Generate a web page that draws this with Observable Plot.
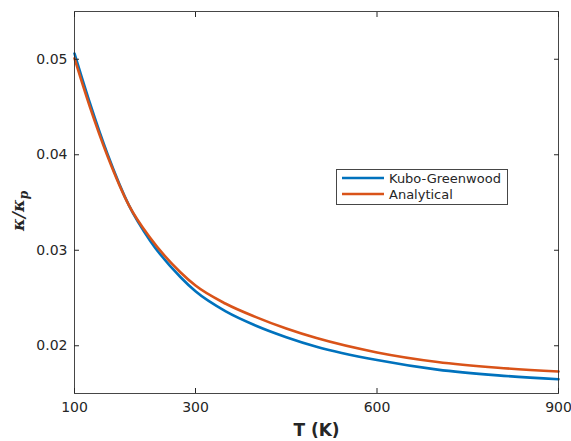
<!DOCTYPE html>
<html>
<head>
<meta charset="utf-8">
<script src="https://cdn.jsdelivr.net/npm/d3@7"></script>
<script src="https://cdn.jsdelivr.net/npm/@observablehq/plot@0.6"></script>
<style>
  html, body { margin: 0; padding: 0; background: #fff; }
  #chart { width: 571px; height: 441px; }
</style>
</head>
<body>
<div id="chart"></div>
<script>
// Temperature samples (K)
const temps = [100, 125, 155, 190, 225, 275, 300, 350, 400, 450, 500, 600, 700, 800, 900];
// kappa / kappa_p, Kubo-Greenwood
const kuboGreenwood = [0.0506, 0.0455, 0.0400, 0.0347, 0.0310, 0.0272, 0.0257, 0.0236, 0.0221, 0.0209, 0.0199, 0.0185, 0.0175, 0.0169, 0.0165];
// kappa / kappa_p, Analytical
const analytical = [0.0501, 0.0451, 0.0398, 0.0347, 0.0313, 0.0277, 0.0263, 0.0244, 0.0230, 0.0218, 0.0208, 0.0193, 0.0183, 0.0177, 0.0173];

const seriesNames = ["Kubo-Greenwood", "Analytical"];
const seriesColors = ["#0072BD", "#D95319"];
const xTicks = [100, 300, 600, 900];
const yTicks = [0.02, 0.03, 0.04, 0.05];

const kuboData = temps.map((t, i) => ({T: t, v: kuboGreenwood[i]}));
const analData = temps.map((t, i) => ({T: t, v: analytical[i]}));

const ink = "#262626";

const chart = Plot.plot({
  width: 571,
  height: 441,
  marginLeft: 74,
  marginRight: 13,
  marginTop: 11,
  marginBottom: 48,
  style: {fontFamily: "DejaVu Sans", fontSize: "14px", color: ink, background: "#fff"},
  x: {domain: [100, 900]},
  y: {domain: [0.015, 0.055]},
  marks: [
    Plot.line(kuboData, {x: "T", y: "v", stroke: seriesColors[0], strokeWidth: 2.6, curve: "monotone-x"}),
    Plot.line(analData, {x: "T", y: "v", stroke: seriesColors[1], strokeWidth: 2.6, curve: "monotone-x"}),
    Plot.frame({stroke: ink, strokeOpacity: 0.85}),
    Plot.axisX({ticks: xTicks, tickSize: -5, tickPadding: 14, tickFormat: d => String(d), label: null, stroke: ink}),
    Plot.axisX({anchor: "top", ticks: xTicks, tickSize: -5, tickFormat: () => "", label: null, stroke: ink}),
    Plot.axisY({ticks: yTicks, tickSize: -5, tickPadding: 12, tickFormat: d3.format(".2f"), label: null, stroke: ink}),
    Plot.axisY({anchor: "right", ticks: yTicks, tickSize: -5, tickFormat: () => "", label: null, stroke: ink}),
    Plot.text(["T (K)"], {frameAnchor: "bottom", dy: 37, fontSize: 17, fontWeight: "bold", fill: ink, lineAnchor: "middle"})
  ]
});

document.getElementById("chart").appendChild(chart);

// y-axis label with subscript
const svg = d3.select(chart);
const yl = svg.append("text")
  .attr("transform", "translate(24,211) rotate(-90)")
  .attr("text-anchor", "middle")
  .attr("fill", ink)
  .attr("font-family", "DejaVu Serif")
  .attr("font-style", "italic")
  .attr("font-weight", "bold")
  .attr("font-size", 17);
yl.append("tspan").text("κ/κ");
yl.append("tspan").attr("font-size", 12).attr("dy", 4).text("p");

// legend
const lg = svg.append("g").attr("font-family", "DejaVu Sans").attr("font-size", 13).attr("text-anchor", "start");
lg.append("rect").attr("x", 336.5).attr("y", 169.5).attr("width", 171).attr("height", 35)
  .attr("fill", "#fff").attr("stroke", ink).attr("stroke-opacity", 0.85);
seriesNames.forEach((name, i) => {
  const cy = 178 + i * 16;
  lg.append("line").attr("x1", 342).attr("x2", 384).attr("y1", cy).attr("y2", cy)
    .attr("stroke", seriesColors[i]).attr("stroke-width", 2.6);
  lg.append("text").attr("x", 389).attr("y", cy).attr("dy", "0.35em")
    .attr("text-anchor", "start").attr("fill", ink).text(name);
});
</script>
</body>
</html>
